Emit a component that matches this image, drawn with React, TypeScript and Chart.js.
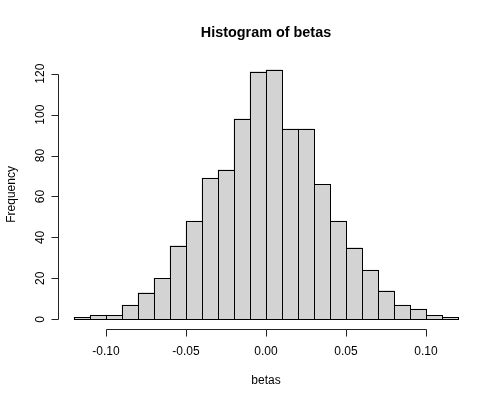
import { useEffect, useRef } from "react";
import { Chart, registerables } from "chart.js";

Chart.register(...registerables);

// Histogram bins (left edges) and their counts
const binStarts = [
  -0.12, -0.11, -0.1, -0.09, -0.08, -0.07, -0.06, -0.05, -0.04, -0.03, -0.02, -0.01,
  0.0, 0.01, 0.02, 0.03, 0.04, 0.05, 0.06, 0.07, 0.08, 0.09, 0.1, 0.11,
];
const counts = [
  1, 2, 2, 7, 13, 20, 36, 48, 69, 73, 98, 121,
  122, 93, 93, 66, 48, 35, 24, 14, 7, 5, 2, 1,
];
const binWidth = 0.01;

const xTicks = [-0.1, -0.05, 0, 0.05, 0.1];
const xTickLabels = ["-0.10", "-0.05", "0.00", "0.05", "0.10"];
const yTicks = [0, 20, 40, 60, 80, 100, 120];
const yTickLabels = ["0", "20", "40", "60", "80", "100", "120"];

const titleText = "Histogram of betas";
const xLabel = "betas";
const yLabel = "Frequency";

const FONT = '"Liberation Sans", Arial, Helvetica, sans-serif';

const rAxesPlugin = {
  id: "rAxes",
  afterDatasetsDraw(chart: any) {
    const ctx = chart.ctx;
    const meta = chart.getDatasetMeta(0);
    ctx.save();
    ctx.strokeStyle = "#000";
    ctx.lineWidth = 1;
    meta.data.forEach((el: any) => {
      const p = el.getProps(["x", "y", "base", "width"], true);
      const l = Math.round(p.x - p.width / 2);
      const r = Math.round(p.x + p.width / 2);
      const t = Math.round(p.y);
      const b = Math.round(p.base);
      ctx.strokeRect(l + 0.5, t + 0.5, r - l, b - t);
    });
    ctx.restore();
  },
  afterDraw(chart: any) {
    const ctx = chart.ctx;
    const area = chart.chartArea;
    const xs = chart.scales.x;
    const ys = chart.scales.y;
    ctx.save();
    ctx.strokeStyle = "#222";
    ctx.fillStyle = "#000";
    ctx.lineWidth = 1;

    // x axis
    const axY = Math.round(area.bottom) + 0.5;
    const x0 = Math.round(xs.getPixelForValue(xTicks[0])) + 0.5;
    const x1 = Math.round(xs.getPixelForValue(xTicks[xTicks.length - 1])) + 0.5;
    ctx.beginPath();
    ctx.moveTo(x0, axY);
    ctx.lineTo(x1, axY);
    xTicks.forEach((v) => {
      const px = Math.round(xs.getPixelForValue(v)) + 0.5;
      ctx.moveTo(px, axY);
      ctx.lineTo(px, axY + 7);
    });
    ctx.stroke();
    ctx.font = `12px ${FONT}`;
    ctx.textAlign = "center";
    ctx.textBaseline = "alphabetic";
    xTicks.forEach((v, i) => {
      ctx.fillText(xTickLabels[i], xs.getPixelForValue(v), 355);
    });

    // y axis
    const axX = Math.round(area.left) - 0.5;
    const y0 = Math.round(ys.getPixelForValue(yTicks[0])) + 0.5;
    const y1 = Math.round(ys.getPixelForValue(yTicks[yTicks.length - 1])) + 0.5;
    ctx.beginPath();
    ctx.moveTo(axX, y0);
    ctx.lineTo(axX, y1);
    yTicks.forEach((v) => {
      const py = Math.round(ys.getPixelForValue(v)) + 0.5;
      ctx.moveTo(axX, py);
      ctx.lineTo(axX - 7, py);
    });
    ctx.stroke();
    yTicks.forEach((v, i) => {
      ctx.save();
      ctx.translate(43.5, ys.getPixelForValue(v));
      ctx.rotate(-Math.PI / 2);
      ctx.fillText(yTickLabels[i], 0, 0);
      ctx.restore();
    });

    // axis titles
    const cx = (area.left + area.right) / 2;
    const cy = (area.top + area.bottom) / 2;
    ctx.fillText(xLabel, cx, 384);
    ctx.save();
    ctx.translate(15, cy);
    ctx.rotate(-Math.PI / 2);
    ctx.fillText(yLabel, 0, 0);
    ctx.restore();

    // main title
    ctx.font = `bold 14.4px ${FONT}`;
    ctx.fillText(titleText, cx, 37.3);
    ctx.restore();
  },
};

export default function App() {
  const ref = useRef<HTMLCanvasElement | null>(null);

  useEffect(() => {
    document.body.style.margin = "0";
    const canvas = ref.current;
    if (!canvas) return;
    const data = binStarts.map((s, i) => ({ x: s + binWidth / 2, y: counts[i] }));
    const chart = new Chart(canvas, {
      type: "bar",
      data: {
        datasets: [
          {
            data: data as any,
            backgroundColor: "#D3D3D3",
            borderWidth: 0,
            barPercentage: 1,
            categoryPercentage: 1,
          },
        ],
      },
      options: {
        animation: false,
        responsive: false,
        devicePixelRatio: 1,
        layout: { padding: { left: 58.6, right: 30.6, top: 59.6, bottom: 73.7 } },
        plugins: {
          legend: { display: false },
          tooltip: { enabled: false },
          title: { display: false },
        },
        scales: {
          x: {
            type: "linear",
            display: false,
            offset: false,
            min: -0.1296,
            max: 0.1296,
            ticks: { stepSize: 0.05 },
            grid: { display: false },
          },
          y: {
            type: "linear",
            display: false,
            min: -4.88,
            max: 126.88,
            ticks: { stepSize: 20 },
            grid: { display: false },
          },
        },
      },
      plugins: [rAxesPlugin],
    });
    return () => chart.destroy();
  }, []);

  return (
    <div style={{ width: 504, height: 403, background: "#fff" }}>
      <canvas ref={ref} width={504} height={403} style={{ display: "block" }} />
    </div>
  );
}
